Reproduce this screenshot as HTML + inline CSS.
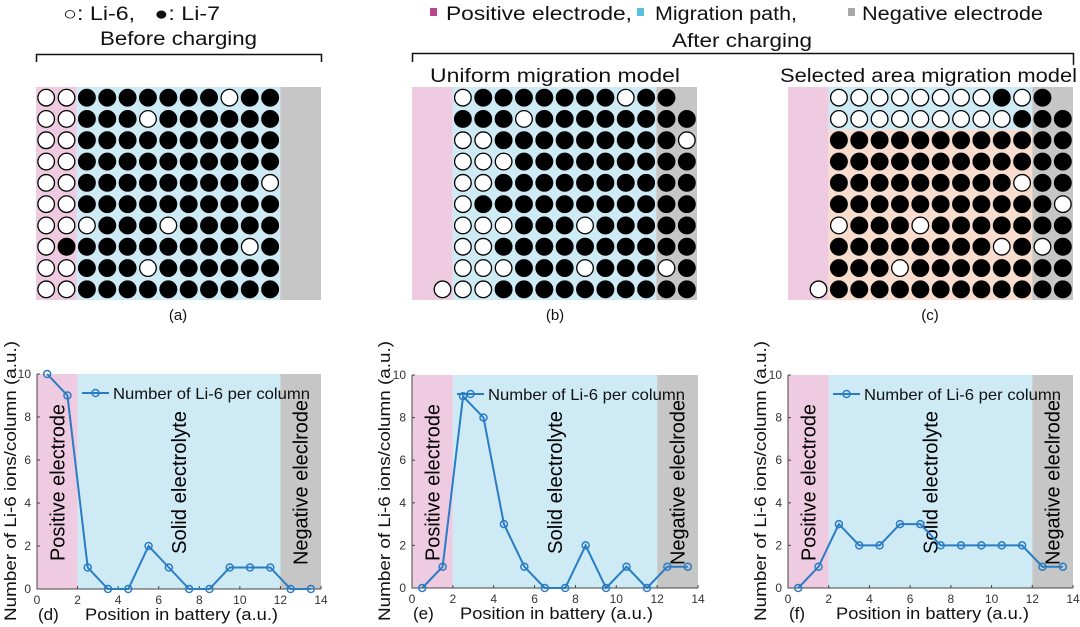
<!DOCTYPE html>
<html><head><meta charset="utf-8"><style>
html,body{margin:0;padding:0;background:#fff;}
svg{display:block;font-family:"Liberation Sans",sans-serif;}
</style></head><body>
<svg id="fig" width="1080" height="627" viewBox="0 0 1080 627" xmlns="http://www.w3.org/2000/svg">
<g fill="#111">
<text x="63" y="20" font-size="19" textLength="157" lengthAdjust="spacingAndGlyphs">○: Li‑6,&#160;&#160; ●: Li‑7</text>
<text x="100" y="45" font-size="19" textLength="157" lengthAdjust="spacingAndGlyphs">Before charging</text>
<path d="M36.5,62 V54.5 H321.5 V62" fill="none" stroke="#111" stroke-width="1.5"/>
<g font-size="19">
<rect x="430" y="8" width="7" height="8" fill="#b8478f"/><text x="446" y="20" textLength="186" lengthAdjust="spacingAndGlyphs">Positive electrode,</text>
<rect x="637" y="8" width="7" height="8" fill="#5ac0de"/><text x="655" y="20" textLength="142" lengthAdjust="spacingAndGlyphs">Migration path,</text>
<rect x="848" y="8" width="7" height="8" fill="#a8a8a8"/><text x="862" y="20" textLength="181" lengthAdjust="spacingAndGlyphs">Negative electrode</text>
</g>
<text x="672" y="47" font-size="19" textLength="140" lengthAdjust="spacingAndGlyphs">After charging</text>
<path d="M412.5,62 V53.5 H1073.5 V65" fill="none" stroke="#111" stroke-width="1.5"/>
<text x="430" y="82" font-size="19" textLength="250" lengthAdjust="spacingAndGlyphs">Uniform migration model</text>
<text x="780" y="82" font-size="19" textLength="297" lengthAdjust="spacingAndGlyphs">Selected area migration model</text>
<text x="178" y="320" font-size="15" text-anchor="middle">(a)</text>
<text x="555" y="320" font-size="15" text-anchor="middle">(b)</text>
<text x="930" y="320" font-size="15" text-anchor="middle">(c)</text>
</g>
<g id="grids"></g>
<g id="charts"></g>
</svg>
<script>
// grid data: W = Li-6 (white), B = Li-7 (black), - = empty; 14 columns each
const gridA = [
"WWBBBBBBBWBB--","WWBBBWBBBBBB--","WWBBBBBBBBBB--","WWBBBBBBBBBB--","WWBBBBBBBBBW--",
"WWBBBBBBBBBB--","WWWBBBWBBBBB--","WBBBBBBBBBWB--","WWBBBWBBBBBB--","WWBBBBBBBBBB--"];
const gridB = [
"--WBBBBBBBWBB-","--BBBWBBBBBBBB","--WWBBBBBBBBBW","--WWWBBBBBBBBB","--WWBBBBBBBBBB",
"--WBBBBBBBBBBB","--WWWBBBWBBBBB","--WWBBBBBBBBBB","--WWWBBBWBBBWB","-WWWBBBBBBBBBB"];
const gridC = [
"--WWWWWWWWBWB-","--WWWWWWWWWBBB","--BBBBBBBBBBBB","--BBBBBBBBBBBB","--BBBBBBBBBWBB",
"--BBBBBBBBBBBW","--WBBBWBBBBBBB","--BBBBBBBBWBWB","--BBBWBBBBBBBB","-WBBBBBBBBBBBB"];

// chart data
const positions = [0.5,1.5,2.5,3.5,4.5,5.5,6.5,7.5,8.5,9.5,10.5,11.5,12.5,13.5];
const countsD = [10,9,1,0,0,2,1,0,0,1,1,1,0,0];
const countsE = [0,1,9,8,3,1,0,0,2,0,1,0,1,1];
const countsF = [0,1,3,2,2,3,3,2,2,2,2,2,1,1];
const xTicks = [0,2,4,6,8,10,12,14];
const yTicks = [0,2,4,6,8,10];

const NS="http://www.w3.org/2000/svg";
function mk(tag,attrs,parent){const e=document.createElementNS(NS,tag);for(const k in attrs)e.setAttribute(k,attrs[k]);parent.appendChild(e);return e;}

const PINK="#eecbe0",BLUE="#cdeaf5",GRAY="#c6c6c6",ORANGE="#f8dccd";

function drawGrid(rows,x0,y0,x1,y1,name,selected){
  const g=mk('g',{},document.getElementById('grids'));
  
  
  const cw=(x1-x0)/14, rh=(y1-y0)/10;
  const p=mk('rect',{x:x0,y:y0,width:2*cw,height:y1-y0,fill:PINK},g);
  
  
  if(selected){
    const b=mk('rect',{x:x0+2*cw,y:y0,width:10*cw,height:2*rh,fill:BLUE},g);
    
    
    const o=mk('rect',{x:x0+2*cw,y:y0+2*rh,width:10*cw,height:8*rh,fill:ORANGE},g);
    
    
  } else {
    const b=mk('rect',{x:x0+2*cw,y:y0,width:10*cw,height:y1-y0,fill:BLUE},g);
    
    
  }
  const n=mk('rect',{x:x0+12*cw,y:y0,width:2*cw,height:y1-y0,fill:GRAY},g);
  
  
  rows.forEach((row,r)=>{
    for(let c=0;c<14;c++){
      const ch=row[c]; if(ch==='-')continue;
      const ci=mk('circle',{cx:x0+(c+0.5)*cw,cy:y0+(r+0.5)*rh,r:8.3,fill:ch==='W'?'#fff':'#000',stroke:'#000','stroke-width':1.3},g);
      
      
    }
  });
}
drawGrid(gridA,36,87,321,300,'grid-before-charging',false);
drawGrid(gridB,412,87,697,300,'grid-uniform-model',false);
drawGrid(gridC,788,87,1073,300,'grid-selected-area-model',true);

function drawChart(vals,L,T,R,B,ylx,letter,name){
  const g=mk('g',{},document.getElementById('charts'));
  
  
  const sx=v=>L+(v/14)*(R-L), sy=v=>B-(v/10)*(B-T);
  const regs=[[0,2,PINK,'positive-electrode-band'],[2,12,BLUE,'solid-electrolyte-band'],[12,14,GRAY,'negative-electrode-band']];
  regs.forEach(rg=>{
    const e=mk('rect',{x:sx(rg[0]),y:T,width:sx(rg[1])-sx(rg[0]),height:B-T,fill:rg[2]},g);
    
    
  });
  const ax=mk('path',{d:`M${L},${T} V${B} H${R}`,fill:'none',stroke:'#444','stroke-width':1},g);
  
  
  xTicks.forEach(t=>{
    mk('line',{x1:sx(t),x2:sx(t),y1:B,y2:B-3,stroke:'#444'},g);
    const tx=mk('text',{x:sx(t),y:B+15,'font-size':12,'text-anchor':'middle',fill:'#333'},g);
    tx.textContent=t;
    
    
  });
  yTicks.forEach(t=>{
    mk('line',{x1:L,x2:L+3,y1:sy(t),y2:sy(t),stroke:'#444'},g);
    const tx=mk('text',{x:L-6,y:sy(t)+4,'font-size':12,'text-anchor':'end',fill:'#333'},g);
    tx.textContent=t;
    
    
  });
  const midY=(T+B)/2+1;
  const labs=[[1,'Positive electrode','positive-electrode-label',157],[7,'Solid electrolyte','solid-electrolyte-label',143],[13,'Negative eleclrode','negative-electrode-label',165]];
  labs.forEach(lb=>{
    const x=sx(lb[0])+7;
    const tx=mk('text',{x:x,y:midY,'font-size':20,'text-anchor':'middle',fill:'#000',textLength:lb[3],lengthAdjust:'spacingAndGlyphs',transform:`rotate(-90 ${x} ${midY})`},g);
    tx.textContent=lb[1];
    
    
  });
  const pts=positions.map((p,i)=>sx(p)+','+sy(vals[i])).join(' ');
  const line=mk('polyline',{points:pts,fill:'none',stroke:'#2a7cc4','stroke-width':2},g);
  
  
  positions.forEach((p,i)=>{
    const c=mk('circle',{cx:sx(p),cy:sy(vals[i]),r:3.5,fill:'none',stroke:'#2a7cc4','stroke-width':1.5},g);
    
    
  });
  const ly=T+19;
  const lg=mk('g',{},g);
  
  
  mk('line',{x1:L+45,x2:L+72,y1:ly,y2:ly,stroke:'#2a7cc4','stroke-width':2},lg);
  mk('circle',{cx:L+58.5,cy:ly,r:3.5,fill:'none',stroke:'#2a7cc4','stroke-width':1.5},lg);
  const lt=mk('text',{x:L+76,y:ly+6,'font-size':16,fill:'#111',textLength:197,lengthAdjust:'spacingAndGlyphs'},lg);
  lt.textContent='Number of Li-6 per column';
  const yc=481;
  const yl=mk('text',{x:ylx,y:yc,'font-size':17,'text-anchor':'middle',fill:'#111',textLength:280,lengthAdjust:'spacingAndGlyphs',transform:`rotate(-90 ${ylx} ${yc})`},g);
  yl.textContent='Number of Li-6 ions/column (a.u.)';
  
  
  const pl=mk('text',{x:L+1,y:B+31,'font-size':17,fill:'#111'},g);
  pl.textContent=letter;
  
  
  const xl=mk('text',{x:L+48,y:B+31,'font-size':17,fill:'#111',textLength:193,lengthAdjust:'spacingAndGlyphs'},g);
  xl.textContent='Position in battery (a.u.)';
  
  
}
drawChart(countsD,37,374,321,589,16,'(d)','chart-before-charging');
drawChart(countsE,412,375,698,588,390,'(e)','chart-uniform-model');
drawChart(countsF,788,375,1073,588,766,'(f)','chart-selected-area-model');
</script>
</body></html>
